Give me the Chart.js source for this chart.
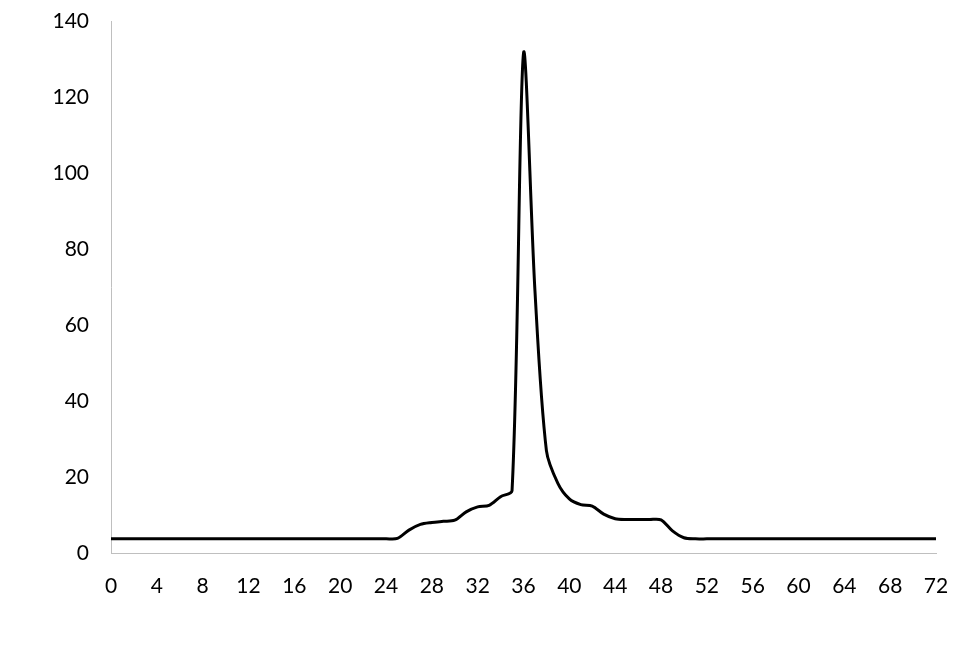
<!DOCTYPE html>
<html>
<head>
<meta charset="utf-8">
<title>Chart</title>
<script src="https://cdn.jsdelivr.net/npm/chart.js@4.4.1/dist/chart.umd.min.js"></script>
<style>
    html, body { margin: 0; padding: 0; background: #fff; }
    #wrap { width: 970px; height: 664px; position: relative; }
</style>
</head>
<body>
<div id="wrap"><canvas id="signalChart"></canvas></div>
<script>
// Hours on the x axis (one reading per hour)
const hours = [
    0, 1, 2, 3, 4, 5, 6, 7, 8, 9, 10, 11, 12, 13, 14, 15, 16, 17, 18, 19, 20, 21, 22, 23, 24,
    25, 26, 27, 28, 29, 30, 31, 32, 33, 34, 35, 36, 37, 38, 39, 40, 41, 42, 43, 44, 45, 46, 47, 48,
    49, 50, 51, 52, 53, 54, 55, 56, 57, 58, 59, 60, 61, 62, 63, 64, 65, 66, 67, 68, 69, 70, 71, 72
];

// Readings
const readings = [
    3.8, 3.8, 3.8, 3.8, 3.8, 3.8, 3.8, 3.8, 3.8, 3.8, 3.8, 3.8, 3.8, 3.8, 3.8, 3.8, 3.8, 3.8, 3.8, 3.8, 3.8, 3.8, 3.8, 3.8, 3.8,
    3.9, 6.1, 7.6, 8.1, 8.4, 8.7, 10.9, 12.2, 12.6, 14.9, 16.5, 131.5, 69, 27, 18.4, 14.3, 12.8, 12.4, 10.3, 9.1, 8.9, 8.9, 8.9, 8.8,
    5.9, 4.1, 3.8, 3.8, 3.8, 3.8, 3.8, 3.8, 3.8, 3.8, 3.8, 3.8, 3.8, 3.8, 3.8, 3.8, 3.8, 3.8, 3.8, 3.8, 3.8, 3.8, 3.8, 3.8
];

// Axis ranges and tick steps
const xTicks = { min: 0, max: 72, step: 4 };
const yTicks = { min: 0, max: 140, step: 20 };

const points = hours.map((h, i) => ({ x: h, y: readings[i] }));

const axisColor = '#bfbfbf';
const labelFont = { family: 'Lato', size: 21 };

const ctx = document.getElementById('signalChart').getContext('2d');
const signalChart = new Chart(ctx, {
    type: 'line',
    data: {
        datasets: [{
            data: points,
            borderColor: '#000000',
            borderWidth: 3,
            pointRadius: 0,
            tension: 0.3,
            fill: false
        }]
    },
    options: {
        responsive: true,
        maintainAspectRatio: false,
        animation: false,
        layout: { padding: { top: 21, right: 34, left: 0, bottom: 0 } },
        plugins: {
            legend: { display: false },
            tooltip: { enabled: false }
        },
        scales: {
            x: {
                type: 'linear',
                min: xTicks.min,
                max: xTicks.max,
                grid: { display: false },
                border: { display: true, color: axisColor, width: 1 },
                ticks: {
                    stepSize: xTicks.step,
                    color: '#000',
                    font: labelFont,
                    padding: 12,
                    maxRotation: 0,
                    autoSkip: false
                },
                afterFit: function(scale) { scale.height = 110.7; }
            },
            y: {
                min: yTicks.min,
                max: yTicks.max,
                grid: { display: false },
                border: { display: true, color: axisColor, width: 1 },
                ticks: {
                    stepSize: yTicks.step,
                    color: '#000',
                    font: labelFont,
                    padding: 14
                },
                afterFit: function(scale) {
                    scale.width = 111;
                    // let the layout padding decide where the plot starts
                    scale.paddingTop = 0;
                    scale.paddingBottom = 0;
                }
            }
        }
    }
});
</script>
</body>
</html>
